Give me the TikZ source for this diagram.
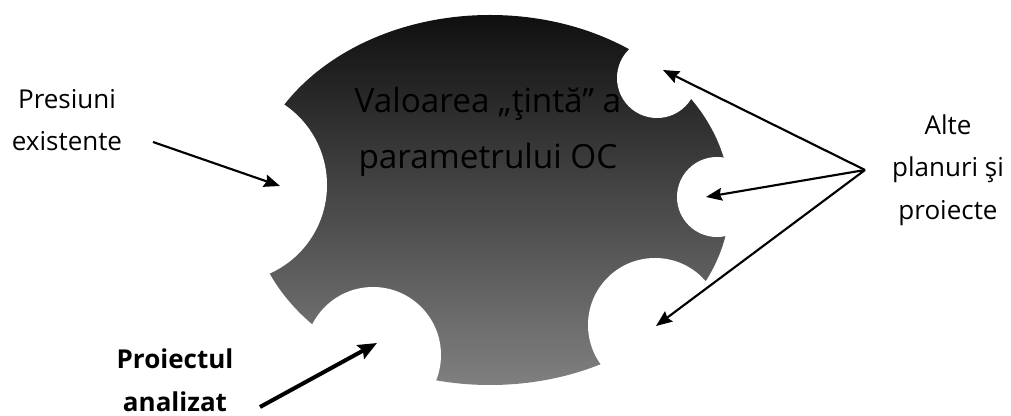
\documentclass[tikz,border=0pt]{standalone}
\usepackage{fontspec}
\setmainfont{Open Sans}
\usetikzlibrary{positioning, arrows.meta}
\tikzset{ bite/.style={fill=white, draw=none},
          lbl/.style={align=center, font=\fontsize{19.5}{32}\selectfont},
          ptr/.style={-{Stealth[length=12pt, width=9.5pt, inset=1.5pt]}, line width=1.6pt},
          ptrbold/.style={-{Stealth[length=14pt, width=11.5pt, inset=2pt]}, line width=3pt}}

\begin{document}
\begin{tikzpicture}[x=0.75pt, y=-0.75pt]
\useasboundingbox (0,0) rectangle (1011,416);

% the shaded body
\shade[top color=black!94, bottom color=black!50] (490,200) ellipse [x radius=240, y radius=185];

\node (goal) at (488,132) [align=center, text=black,
   font=\fontsize{25}{42}\selectfont] {Valoarea „ţintă” a\\parametrului OC};

% white bites cut from the body
\foreach \cx/\cy/\r/\n in {230/185/97/l, 657/78/40/t, 717/197/40/r, 655/325/67/br, 373/355/68/b}
  \fill[bite] (\cx,\cy) circle [radius=\r];

\node[lbl] (pres) at (67,120) {Presiuni\\existente};
\node[lbl] (alte) at (948,170) {Alte\\planuri şi\\proiecte};
\node[lbl, font=\bfseries\fontsize{19.5}{32}\selectfont] (proj) at (175,380) {Proiectul\\analizat};

\coordinate (presA) at (153,142);
\coordinate (presB) at (280,186);
\coordinate (hub) at (865,170);
\coordinate (tipT) at (663,70);
\coordinate (tipR) at (706,197);
\coordinate (tipB) at (656,326);
\coordinate (projA) at (260,407);
\coordinate (projB) at (377,343);

\draw[ptr] (presA) -- (presB);
\foreach \t in {tipT, tipR, tipB}
  \draw[ptr] (hub) -- (\t);
\draw[ptrbold] (projA) -- (projB);

\end{tikzpicture}
\end{document}
